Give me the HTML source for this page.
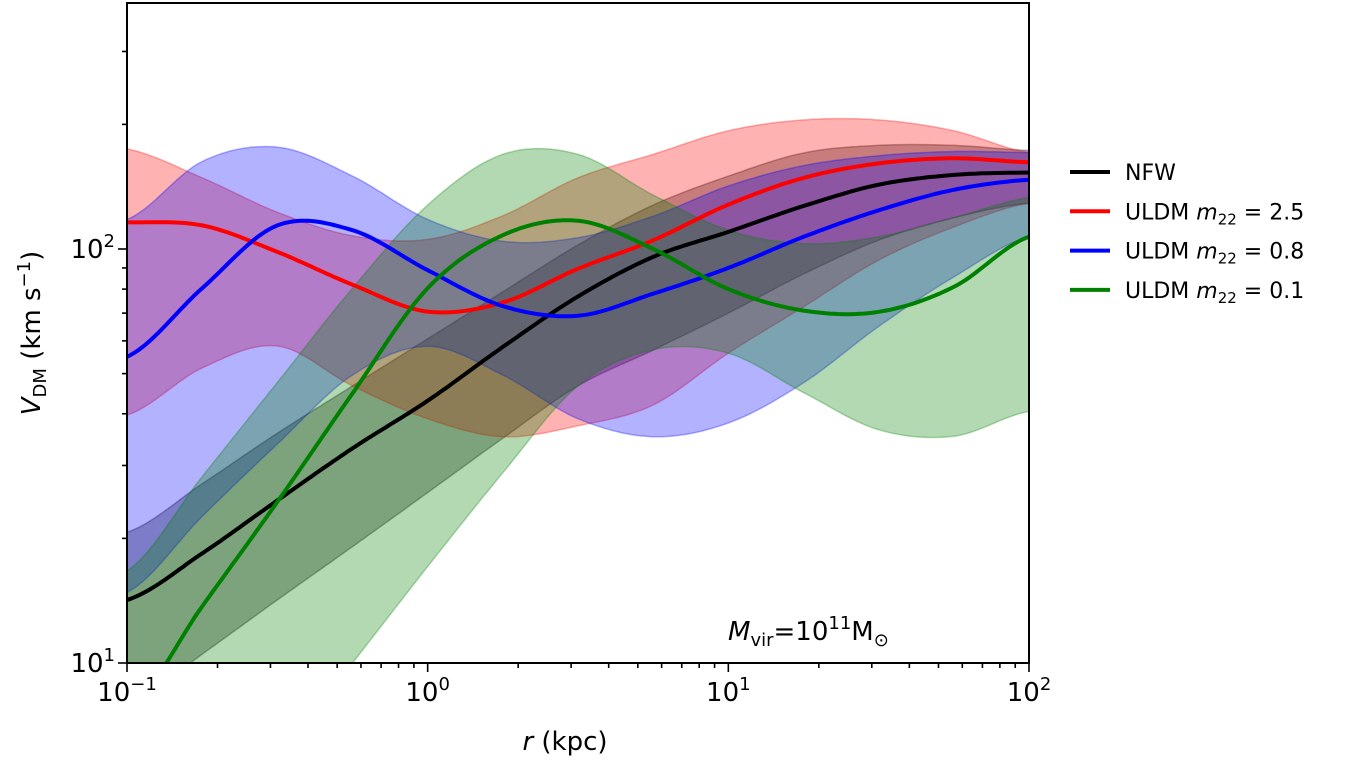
<!DOCTYPE html>
<html><head><meta charset="utf-8"><style>
html,body{margin:0;padding:0;background:#fff;overflow:hidden;width:1364px;height:762px;}
svg{display:block;}
svg text{font-family:"DejaVu Sans","Liberation Sans",sans-serif;fill:#000;}
</style></head><body>
<svg id="chart" width="1364" height="762" viewBox="0 0 1364 762" xmlns="http://www.w3.org/2000/svg">
<g id="bands"></g>
<g id="lines"></g>
<rect x="127" y="3" width="902" height="660" fill="none" stroke="#000" stroke-width="2"/>
<g id="axes"></g>
<text x="565" y="750" font-size="26" text-anchor="middle"><tspan font-style="italic">r</tspan> (kpc)</text>
<text transform="translate(40,333) rotate(-90)" font-size="26" text-anchor="middle"><tspan font-style="italic">V</tspan><tspan font-size="18" dy="6">DM</tspan><tspan dy="-6"> (km s</tspan><tspan font-size="18" dy="-10">−1</tspan><tspan dy="10">)</tspan></text>
<text x="728" y="640" font-size="26"><tspan font-style="italic">M</tspan><tspan font-size="18" dy="6">vir</tspan><tspan dy="-6">=10</tspan><tspan font-size="18" dy="-11">11</tspan><tspan dy="11">M</tspan><tspan font-size="18" dy="6">⊙</tspan></text>
<g id="legend"></g>
</svg>
<script>
const logR=[-1,-0.75,-0.5,-0.25,0,0.25,0.5,0.75,1,1.25,1.5,1.75,2];
const nfw=[14.2,18.4,24.7,33,43,58,76.8,95.7,110,127,143,151,153];
const nfwUp=[20.7,27.1,35.9,46.7,60.7,78.8,102.3,127.7,150,170.6,178,178,173];
const nfwLo=[7.8,10.5,14.2,19.1,25.8,34.9,46.7,57,70,87,105,119,129];
const uldm25=[116,114,98.4,82,70.6,74.3,89.6,105,128,148.5,161,165.6,162];
const uldm25Up=[174.5,148.6,122.7,107.6,105.5,120.3,148.6,169.3,193,205,205,193,171];
const uldm25Lo=[39.7,51.6,58.3,46.7,38.9,35.2,37.4,42,56,72.5,94,113,129];
const uldm08=[54.9,80.4,114,111,88.9,72.8,69,78,90,107,124,139,147];
const uldm08Up=[117.9,162.7,176.2,150,117.9,104.4,106.5,120,142,159,168,172,171];
const uldm08Lo=[14.8,22.6,33.8,49.6,58.2,49.6,38.9,35.2,38,47.5,65,85.6,107];
const uldm01=[7.6,13.7,24.5,44.8,80.4,108,117,100,80,71,70.5,81,107];
const uldm01Up=[16.7,28.2,47.6,80.4,127.7,169.3,169.3,135,111,103,107,119,133];
const uldm01Lo=[2.1,3.5,5.9,10,17.1,28.8,46.7,57.1,56,45,36.6,35.3,40.5];
const m22=["2.5","0.8","0.1"];
const xTicks=[-1,0,1,2];
const yTicks=[1,2];
const NS="http://www.w3.org/2000/svg";
const X0=127,X1=1029,Y0=663,Y1=3;
const xs=L=>X0+(L+1)/3*(X1-X0);
const yDec=414;
function interp(vals){
  const pts=[];const lv=vals.map(v=>Math.log10(v));
  for(let i=0;i<logR.length-1;i++){
    const p0=lv[Math.max(0,i-1)],p1=lv[i],p2=lv[i+1],p3=lv[Math.min(lv.length-1,i+2)];
    for(let k=0;k<20;k++){const t=k/20;
      const v=0.5*((2*p1)+(-p0+p2)*t+(2*p0-5*p1+4*p2-p3)*t*t+(-p0+3*p1-3*p2+p3)*t*t*t);
      pts.push([logR[i]+(logR[i+1]-logR[i])*t,v]);}
  }
  pts.push([logR[logR.length-1],lv[lv.length-1]]);return pts;
}
const px=(L,lv)=>[xs(L),Math.min(Y0+4,Y0-(lv-1)*yDec)];
const fmt=a=>a.map(q=>q[0].toFixed(1)+','+q[1].toFixed(1)).join('L');
const bands=document.getElementById('bands'),lines=document.getElementById('lines');
const cp=document.createElementNS(NS,'clipPath');cp.setAttribute('id','clip');
const cr=document.createElementNS(NS,'rect');cr.setAttribute('x',X0);cr.setAttribute('y',Y1);cr.setAttribute('width',X1-X0);cr.setAttribute('height',Y0-Y1);cp.appendChild(cr);
document.getElementById('chart').appendChild(cp);
bands.setAttribute('clip-path','url(#clip)');lines.setAttribute('clip-path','url(#clip)');
const all=[[nfw,nfwUp,nfwLo,'#000000','nfw'],[uldm25,uldm25Up,uldm25Lo,'#ff0000','m22-2p5'],[uldm08,uldm08Up,uldm08Lo,'#0000ff','m22-0p8'],[uldm01,uldm01Up,uldm01Lo,'#008000','m22-0p1']];
all.forEach(([vals,upv,lov,col,nm])=>{
  const up=interp(upv).map(([L,v])=>px(L,v));
  const lo=interp(lov).map(([L,v])=>px(L,v)).reverse();
  const b=document.createElementNS(NS,'path');
  b.setAttribute('d','M'+fmt(up.concat(lo))+'Z');
  b.setAttribute('fill',col);b.setAttribute('fill-opacity','0.3');b.setAttribute('stroke',col);b.setAttribute('stroke-opacity','0.3');b.setAttribute('stroke-width','1.5');
  
  
  bands.appendChild(b);
});
all.forEach(([vals,upv,lov,col,nm])=>{
  const l=document.createElementNS(NS,'path');
  l.setAttribute('d','M'+fmt(interp(vals).map(([L,v])=>px(L,v))));
  l.setAttribute('fill','none');l.setAttribute('stroke',col);l.setAttribute('stroke-width','4');
  
  
  lines.appendChild(l);
});
const axes=document.getElementById('axes');
function ln(x1,y1,x2,y2,nm){const e=document.createElementNS(NS,'line');e.setAttribute('x1',x1);e.setAttribute('y1',y1);e.setAttribute('x2',x2);e.setAttribute('y2',y2);e.setAttribute('stroke','#000');e.setAttribute('stroke-width','1.6');


axes.appendChild(e);}
function tx(x,y,base,exp,anchor,nm){const t=document.createElementNS(NS,'text');t.setAttribute('x',x);t.setAttribute('y',y);t.setAttribute('font-size','26');t.setAttribute('text-anchor',anchor);
t.innerHTML=base+'<tspan font-size="18" dy="-11">'+exp+'</tspan>';


axes.appendChild(t);}
xTicks.forEach(L=>{const x=xs(L);ln(x,Y0,x,Y0+9,'x-major-tick');tx(x,Y0+38,'10',L<0?'−'+(-L):L,'middle','x-tick-label');
  if(L<2)for(let m=2;m<10;m++){const xm=xs(L+Math.log10(m));ln(xm,Y0,xm,Y0+5,'x-minor-tick');}});
yTicks.forEach(d=>{const y=Y0-(d-1)*yDec;ln(X0-9,y,X0,y,'y-major-tick');tx(X0-12,y+9,'10',d,'end','y-tick-label');});
for(let d=1;d<=2;d++)for(let m=2;m<10;m++){const y=Y0-(d-1+Math.log10(m))*yDec;if(y>=Y1)ln(X0-5,y,X0,y,'y-minor-tick');}
const leg=document.getElementById('legend');
const lc=['#000','#ff0000','#0000ff','#008000'];
[0,1,2,3].forEach(i=>{const y=172+i*39.3;
  const e=document.createElementNS(NS,'line');e.setAttribute('x1',1070);e.setAttribute('x2',1110);e.setAttribute('y1',y);e.setAttribute('y2',y);e.setAttribute('stroke',lc[i]);e.setAttribute('stroke-width','4');
  
  
  leg.appendChild(e);
  const t=document.createElementNS(NS,'text');t.setAttribute('x',1125);t.setAttribute('y',y+8);t.setAttribute('font-size','22');
  t.innerHTML=i==0?'NFW':'ULDM <tspan font-style="italic">m</tspan><tspan font-size="15" dy="5">22</tspan><tspan dy="-5"> = '+m22[i-1]+'</tspan>';
  
  
  leg.appendChild(t);});
</script>
</body></html>
